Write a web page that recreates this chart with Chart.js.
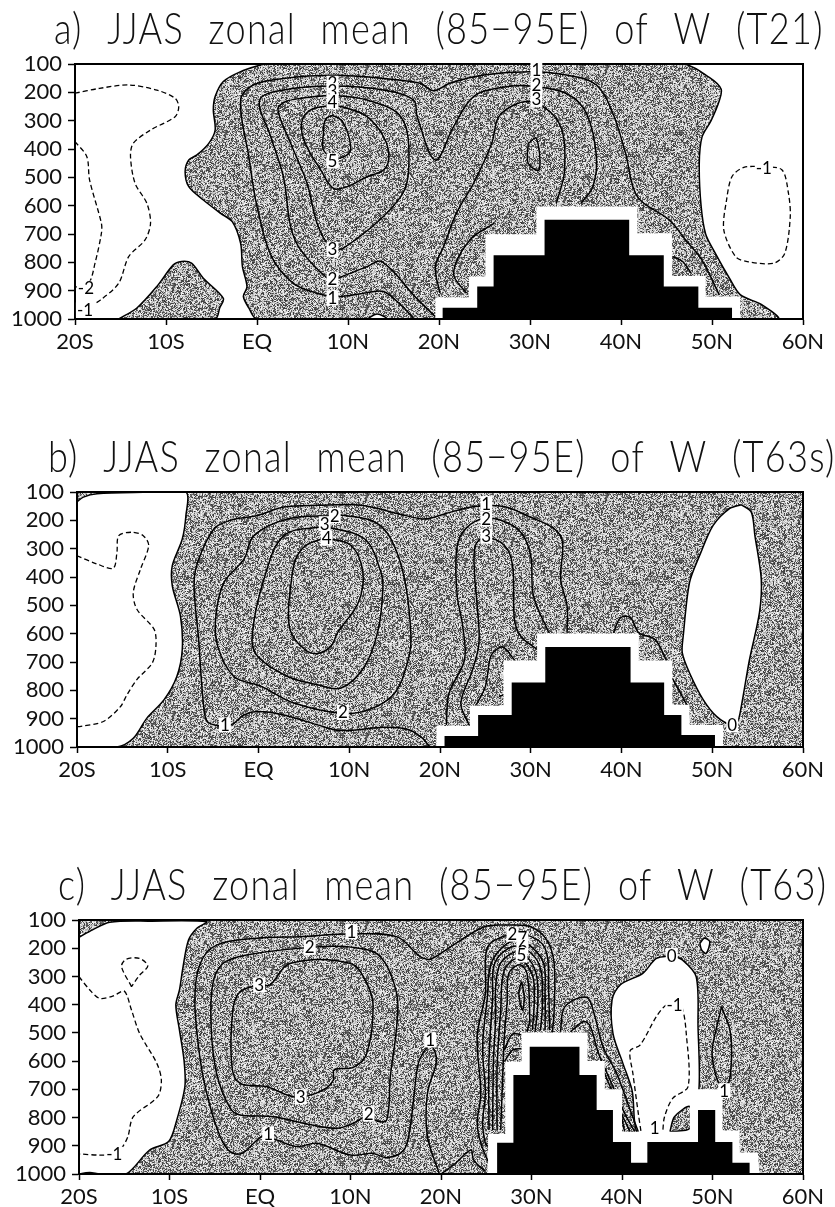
<!DOCTYPE html>
<html>
<head>
<meta charset="utf-8">
<style>
  body { margin: 0; background: #fff; }
  #wrap { position: relative; width: 835px; height: 1207px; overflow: hidden; }
  canvas { position: absolute; left: 0; }
</style>
<script src="https://cdn.jsdelivr.net/npm/chart.js@4/dist/chart.umd.min.js"></script>
</head>
<body>
<div id="wrap">
  <canvas id="chartA" width="835" height="355" style="top:4px"></canvas>
  <canvas id="chartB" width="835" height="355" style="top:432px"></canvas>
  <canvas id="chartC" width="835" height="354" style="top:860px"></canvas>
</div>
<script>
// 1. AXES
const xTicks = [-20, -10, 0, 10, 20, 30, 40, 50, 60];
const xTickLabels = ["20S", "10S", "EQ", "10N", "20N", "30N", "40N", "50N", "60N"];
const yTicks = [100, 200, 300, 400, 500, 600, 700, 800, 900, 1000];
const yTickLabels = ["100", "200", "300", "400", "500", "600", "700", "800", "900", "1000"];

// 2. PANEL A (T21), every pair is [latitude, pressure]
const titleA = "a) JJAS zonal mean (85\u221295E) of W (T21)";
const shadeA = [[0.7,100],[-1.8,127],[-3.7,162],[-4.6,215],[-4.8,262],[-4.6,333],[-5.3,380],[-6.6,421],[-7.5,439],[-7.9,480],[-7.5,533],[-5.9,580],[-4,627],[-2.7,657],[-1.8,733],[-1.6,815],[-1.1,886],[-1.5,920],[-0.9,961],[0,1000],[57.2,1000],[55.5,950],[53.1,914],[51.9,855],[50.4,770],[49.3,700],[48.8,600],[48.6,453],[48.9,358],[49.9,300],[50.8,230],[51,188],[49.7,147],[46.8,100],[0.7,100]];
const islandA = [[-15.2,1000],[-13.2,961],[-11,885],[-9.2,809],[-8.3,797],[-7.2,803],[-5.9,856],[-3.7,927],[-4.1,961],[-4.6,1000],[-15.2,1000]];
const holeA = [[12.1,1000],[13.2,982],[14.3,1000],[12.1,1000]];
const solidA = [
  [[17.2,997],[15.8,950],[13.9,903],[12.1,907],[8.8,921],[6.6,909],[4,874],[1.6,780],[0,603],[-0.9,427],[-1.8,227],[-0.4,174],[2.9,151],[8.4,140],[13.9,151],[17.9,168],[19.4,194],[21.2,168],[24.9,139],[30,127],[34,139],[37.3,174],[39.1,274],[40.5,415],[41.8,568],[45.3,650],[47.1,721],[48.9,792],[50.8,915]],
  [[19.6,992],[17.6,929],[13.7,797],[12.1,815],[8.8,856],[7.9,860],[4.8,756],[3.7,674],[2.9,498],[1.5,356],[0.3,227],[2.9,192],[8.3,178],[13.9,192],[17.2,227],[17.6,286],[19.6,439],[21.6,321],[23.8,215],[27,182],[30,178],[34,204],[36.2,274],[37.3,427],[36.9,533],[35.6,592]],
  [[8.3,209],[4.8,221],[3,235],[2.3,262],[3.7,380],[5.5,521],[6.6,662],[7.9,739],[9.5,750],[15.8,568],[16.7,427],[15.8,286],[12.1,227],[8.3,209]],
  [[20.1,909],[19.6,815],[20.5,745],[21.9,627],[23.8,521],[25.8,380],[26.7,280],[30,233],[33.2,309],[33.8,474],[32.9,592]],
  [[29.8,380],[30.7,362],[31,474],[29.8,450],[29.8,380]],
  [[26.1,662],[23.4,721],[21.6,839],[23,909]],
  [[45.7,780],[46.8,798],[47.7,839]],
  [[8.3,245],[5.9,262],[4.9,309],[5.3,380],[7,474],[8.4,539],[9.9,533],[12.1,498],[13.9,474],[14.5,427],[13.9,356],[12.1,286],[9.9,256],[8.3,245]],
  [[8.4,439],[7.3,403],[7.3,345],[7.5,298],[8.3,283],[9.5,309],[10.3,392],[9.9,421],[8.4,439]]
];
const dashedA = [
  [[-20,203],[-17.3,186],[-14.1,174],[-11,192],[-9,221],[-8.6,250],[-9,286],[-11.7,333],[-13.6,380],[-13.9,427],[-13.4,521],[-12.1,592],[-11.7,662],[-12.3,721],[-14.1,780],[-15.2,874],[-17.2,933],[-18.4,954],[-20,968]],
  [[-20,374],[-18.7,427],[-18.4,509],[-17.1,662],[-17.1,698],[-17.8,803],[-18.5,874],[-20,888]],
  [[55.7,462],[57.7,474],[58.4,556],[58.6,639],[58,768],[56.8,803],[54,798],[52.6,780],[51.3,686],[51.6,580],[52.2,497],[53.5,465],[55.7,462]]
];
const haloA = [[19.6,1000],[19.6,924],[23.3,924],[23.3,850],[25.1,850],[25.1,701],[30.7,701],[30.7,603],[41.8,603],[41.8,697],[45.6,697],[45.6,848],[49.3,848],[49.3,921],[53.1,921],[53.1,1000],[19.6,1000]];
const terrainA = [[20.4,1000],[20.4,960],[24.2,960],[24.2,885],[26,885],[26,775],[31.6,775],[31.6,650],[40.9,650],[40.9,775],[44.7,775],[44.7,885],[48.5,885],[48.5,960],[52.2,960],[52.2,1000],[20.4,1000]];
const labelsA = [[8.3,168,"2"],[8.3,194,"3"],[8.3,233,"4"],[8.3,442,"5"],[8.3,754,"3"],[8.3,860,"2"],[8.3,925,"1"],[-18.8,891,"-2"],[-18.9,968,"-1"],[30.7,122,"1"],[30.7,174,"2"],[30.7,225,"3"],[55.7,466,"-1"]];

// 3. PANEL B (T63s)
const titleB = "b) JJAS zonal mean (85\u221295E) of W (T63s)";
const shadeB = [[-20,100],[60,100],[60,1000],[-20,1000],[-20,100]];
const whiteLeftB = [[-20,135],[-19.3,118],[-17.8,106],[-12.7,101],[-8,100],[-8,183],[-8.4,266],[-9.5,360],[-9.5,431],[-8.6,538],[-8.4,656],[-9,751],[-10.4,833],[-12.3,898],[-13.8,969],[-15.6,1000],[-20,1000],[-20,135]];
const whiteRightB = [[53.2,145],[54.3,171],[54.7,254],[55.4,408],[55.2,526],[54.1,692],[53.2,857],[52.8,910],[52.1,922],[50.5,893],[49,833],[47.5,739],[46.7,668],[46.8,609],[47.5,419],[48.6,325],[50.1,218],[51.9,159],[53.2,145]];
const solidB = [
  [[18.8,997],[18,967],[16.5,938],[13.9,930],[9.1,942],[6.5,922],[2.8,887],[-0.1,875],[-1.6,887],[-3.1,922],[-5.5,914],[-6,869],[-6.6,620],[-7.1,431],[-6.7,348],[-4.9,230],[-3.1,200],[-0.1,183],[2.8,153],[6.5,147],[11.3,147],[15.8,180],[18,195],[19,192],[21.2,171],[23.8,151],[27,151],[30,189],[32.6,230],[33.5,277],[33.3,408],[34,502],[34,597]],
  [[8.4,183],[3.2,195],[-0.5,254],[-1.6,337],[-3.8,419],[-4.7,538],[-4.5,644],[-2.7,751],[0.3,786],[3.9,845],[9.1,881],[12.1,869],[15,810],[16.5,691],[16.8,609],[16.1,408],[14.6,266],[12.8,206],[9.5,183],[8.4,183]],
  [[7.3,221],[11.7,266],[13.5,384],[13.7,443],[13.2,585],[11.7,715],[9.1,792],[6.5,780],[3.2,751],[-0.1,680],[-0.7,609],[0.6,408],[2.8,254],[7.3,221]],
  [[7.3,262],[10.2,289],[11.5,384],[11,490],[8.7,597],[8,644],[6.5,670],[5.1,656],[3.6,597],[3.3,526],[3.6,419],[4.1,337],[5.2,289],[7.3,262]],
  [[20.7,922],[21,810],[22.7,692],[22.5,573],[21.9,467],[21.8,313],[22.5,242],[24.5,195],[26.7,200],[28.9,242],[30,325],[30.3,467],[32,597]],
  [[23.2,922],[22.3,845],[23.6,727],[24.3,632],[24.1,502],[23.8,384],[23.9,289],[25,260],[27.1,289],[28,360],[28.2,550],[28.9,609],[30.7,656]],
  [[24,851],[25,786],[25.6,680],[26.5,650],[27.1,650],[28.3,697]],
  [[39.1,597],[39.9,544],[41,544],[41.9,597],[43.7,621],[45,697]],
  [[45.6,757],[47.2,851]],
  [[26.5,822],[27,816]]
];
const dashedB = [
  [[-20,325],[-17.8,354],[-16,369],[-15.6,313],[-15.4,254],[-13.9,242],[-12.7,254],[-12.1,289],[-13,372],[-13.8,455],[-13.4,514],[-11.5,585],[-11.3,644],[-11.7,703],[-13.4,762],[-14.5,816],[-15.2,857],[-17.1,910],[-19.7,928],[-20,928]]
];
const haloB = [[19.6,1000],[19.6,926],[23.3,926],[23.3,854],[27,854],[27,695],[30.7,695],[30.7,599],[41.9,599],[41.9,695],[45.6,695],[45.6,851],[47.5,851],[47.5,922],[51.2,922],[51.2,1000],[19.6,1000]];
const terrainB = [[20.5,1000],[20.5,961],[24.2,961],[24.2,887],[27.9,887],[27.9,772],[31.6,772],[31.6,647],[41,647],[41,772],[44.7,772],[44.7,887],[46.6,887],[46.6,958],[50.3,958],[50.3,1000],[20.5,1000]];
const labelsB = [[8.4,183,"2"],[7.3,212,"3"],[7.5,263,"4"],[9.3,878,"2"],[-3.7,922,"1"],[25.1,141,"1"],[25.1,195,"2"],[25.1,256,"3"],[52.2,922,"0"]];

// 4. PANEL C (T63)
const titleC = "c) JJAS zonal mean (85\u221295E) of W (T63)";
const shadeC = [[-20,100],[60,100],[60,1000],[-20,1000],[-20,100]];
const whiteLeftC = [[-20,161],[-18.5,135],[-16.6,108],[-12.2,104],[-5.9,106],[-7,130],[-7.9,171],[-8.5,265],[-8.9,348],[-9.3,401],[-8.9,490],[-8.4,596],[-8.3,690],[-9.2,809],[-10.1,885],[-12.2,915],[-14.8,1000],[-17.7,1000],[-18.8,995],[-20,1000],[-20,161]];
const whiteHoleC = [[45.5,226],[43.8,236],[42.3,289],[39.8,330],[38.9,383],[39,502],[40.1,608],[41.1,702],[42,868],[47.5,868],[48.5,702],[48.4,478],[48.2,301],[46.7,242],[45.5,226]];
const whiteBlobC = [[48.6,183],[49.1,165],[49.7,177],[49.3,218],[48.8,206],[48.6,183]];
const whiteBumpC = [[6.1,1000],[6.5,985],[6.8,1000],[6.1,1000]];
const patchC = [[45.3,850],[45.8,797],[47.5,761],[47.5,838],[45.3,850]];
const solidC = [
  [[19.8,997],[18.5,867],[18.5,714],[19.5,596],[18.8,543],[17.8,584],[17.4,620],[16.6,832],[15.9,915],[14,942],[12.5,927],[10,933],[6.3,891],[4.1,903],[1.8,879],[0.4,865],[-0.7,891],[-2,927],[-3.3,921],[-4.4,868],[-5.7,738],[-6.6,596],[-7.2,383],[-6.6,254],[-4.8,189],[-0.4,165],[4.4,159],[10,150],[15.1,159],[17.7,230],[18.9,238],[21.1,194],[24.8,124],[27.3,118],[29.9,124],[31.7,171],[32.5,254],[32.5,419],[32.3,502]],
  [[12,787],[10.3,820],[8.5,838],[4.8,820],[1.5,797],[-2.2,791],[-3.3,767],[-4.8,643],[-5.4,478],[-5.2,324],[-4.1,254],[-1.5,224],[5.5,197],[10.3,197],[13.3,230],[15.1,360],[15.1,478],[14.4,655],[14,809],[12.9,812],[12,787]],
  [[-0.1,330],[-2.2,354],[-3,419],[-3.1,620],[-2.2,679],[0.7,690],[3,720],[4.5,728],[7,702],[8.1,667],[8.2,631],[10.3,622],[11.8,572],[12.5,407],[11.8,324],[10,254],[3.3,254],[1.1,330],[-0.1,330]],
  [[25.2,956],[24.4,891],[24,820],[24.4,714],[24,513],[24.9,360],[25.1,200],[27,157],[29.2,150],[31.5,200],[31.9,360],[32,490]],
  [[25.2,903],[24.9,891],[24.6,820],[24.9,714],[24.6,549],[25.1,383],[25.7,242],[28.4,171],[31.2,242],[31.5,360],[31.5,490]],
  [[25.3,844],[25.3,596],[25.7,383],[26,248],[28.4,192],[30.8,254],[31.2,395],[31,490]],
  [[25.7,844],[25.8,596],[26,478],[26.4,265],[28.6,212],[30.4,277],[30.7,395],[30.4,496]],
  [[26.2,844],[26.2,620],[26.6,419],[27,277],[28.6,236],[30.1,295],[30.3,395],[30.1,490]],
  [[26.6,844],[27,513],[27.3,395],[27.5,289],[28.7,259],[29.5,289],[29.8,454],[29.5,496]],
  [[28.9,318],[28.6,360],[29,419],[29.2,371],[28.9,318]],
  [[27,602],[27.9,561],[28.9,555]],
  [[27,561],[27.9,504],[28.9,507]],
  [[33.2,496],[33.7,407],[36.1,374],[37,442],[37.9,549],[39.4,643],[40.9,773],[41.8,850]],
  [[34.3,496],[35.8,460],[36.5,478],[37.4,572],[39,690],[40.3,785],[41.4,850]],
  [[37.6,608],[39,714],[40.1,797],[40.9,850]],
  [[38.3,702],[39.6,761],[40.3,850]],
  [[51,407],[50,549],[50,596],[50.7,679],[51.5,690],[52,643],[52,502],[51,407]],
  [[20,1000],[21.6,962],[23.3,915],[23.6,950],[24.9,991]]
];
const dashedC = [
  [[-20,301],[-18.8,348],[-17.7,378],[-16.2,369],[-15,352],[-14.2,419],[-13.3,502],[-11.4,608],[-10.9,667],[-11.3,726],[-14,797],[-14.6,868],[-15.3,909],[-16.1,930],[-17.7,933],[-20,929]],
  [[-14.2,336],[-15.3,265],[-14.8,239],[-13.3,236],[-12.4,263],[-13.3,295],[-14.2,336]],
  [[45.8,401],[44.9,401],[43.8,442],[42,543],[40.9,563],[41.2,643],[41.8,785],[42.1,850]],
  [[45.8,401],[46.6,407],[47.1,502],[47.3,690],[45.6,732],[44.7,797],[44.5,850]]
];
const haloC = [[25.2,1000],[25.2,858],[27.1,858],[27.1,602],[28.9,602],[28.9,499],[36.2,499],[36.2,600],[38.1,600],[38.1,700],[40,700],[40,850],[47.5,850],[47.5,700],[51.1,700],[51.1,846],[53,846],[53,924],[55,924],[55.2,1000],[25.2,1000]];
const terrainC = [[26.2,1000],[26.2,889],[28,889],[28,649],[29.8,649],[29.8,549],[35.3,549],[35.3,649],[37.2,649],[37.2,773],[39,773],[39,887],[41,887],[41,960],[42.8,960],[42.8,887],[48.4,887],[48.4,773],[50.3,773],[50.3,887],[52.2,887],[52.2,960],[54.1,960],[54.1,1000],[26.2,1000]];
const labelsC = [[10.1,141,"1"],[5.5,197,"2"],[-0.1,330,"3"],[4.5,726,"3"],[12,787,"2"],[0.9,858,"1"],[-16.1,930,"-1"],[18.8,525,"1"],[27.9,150,"2"],[29,165,"7"],[29,195,"6"],[28.9,224,"5"],[45.5,226,"0"],[45.8,401,"-1"],[51.3,705,"1"],[43.6,838,"1"]];

// 5. SPECKLE FILL, a scanned stipple kept as a repeating tile
function makeSpeckle() {
  const size = 240;
  const tile = document.createElement('canvas');
  tile.width = tile.height = size;
  const tctx = tile.getContext('2d');
  const img = tctx.createImageData(size, size);
  let seed = 12345;
  const next = () => { seed = (seed * 1103515245 + 12345) & 0x7fffffff; return (seed >> 8) / 0x7fffff; };
  const coarse = [];
  for (let i = 0; i < 81 * 81; i++) coarse.push(next());
  for (let y = 0; y < size; y++) {
    for (let x = 0; x < size; x++) {
      const c = coarse[Math.floor(y / 3) * 81 + Math.floor(x / 3)];
      const dark = next() * 0.7 + c * 0.3 < 0.44;
      const v = dark ? 50 + next() * 70 : 170 + next() * 80;
      const k = (y * size + x) * 4;
      img.data[k] = img.data[k + 1] = img.data[k + 2] = v;
      img.data[k + 3] = 255;
    }
  }
  tctx.putImageData(img, 0, 0);
  return tile;
}
const speckleTile = makeSpeckle();

// 6. DATASET HELPERS
const toPoints = list => list.map(([x, y]) => ({ x, y }));
const base = { pointRadius: 0, pointHoverRadius: 0, borderColor: '#000' };
const area = (list, fillStyle, border) => ({ ...base, data: toPoints(list), fill: 'shape', backgroundColor: fillStyle, borderWidth: border, tension: border ? 0.3 : 0 });
const block = (list, color) => ({ ...base, data: toPoints(list), fill: 'shape', backgroundColor: color, borderColor: color, borderWidth: 0, tension: 0 });
const solid = list => ({ ...base, data: toPoints(list), fill: false, borderWidth: 1.5, tension: 0.35 });
const dashed = list => ({ ...base, data: toPoints(list), fill: false, borderWidth: 1.3, borderDash: [5, 3], tension: 0.3 });

// 7. PLUGINS
const contourLabels = {
  id: 'contourLabels',
  afterDatasetsDraw(chart, args, opts) {
    const { ctx, scales } = chart;
    ctx.save();
    ctx.strokeStyle = '#000';
    ctx.lineWidth = 2;
    const a = chart.chartArea;
    ctx.strokeRect(a.left, a.top, a.right - a.left, a.bottom - a.top);
    ctx.font = '17px Lato';
    ctx.textAlign = 'center';
    ctx.textBaseline = 'middle';
    opts.items.forEach(([lon, p, text]) => {
      const x = scales.x.getPixelForValue(lon);
      const y = scales.y.getPixelForValue(p);
      const w = ctx.measureText(text).width + 2;
      ctx.fillStyle = '#fff';
      ctx.fillRect(x - w / 2, y - 7.5, w, 15);
      ctx.fillStyle = '#000';
      ctx.fillText(text, x, y + 0.5);
    });
    ctx.restore();
  }
};
// the scanned title is tall, narrow and set wide, so squeeze and space it round the title draw
const wideTitle = {
  id: 'wideTitle',
  beforeDraw(chart, args, opts) {
    const box = chart.titleBlock;
    if (box._wide) return;
    const draw = box.draw;
    box.draw = function () {
      const ctx = chart.ctx;
      ctx.save();
      ctx.letterSpacing = opts.letter + 'px';
      ctx.wordSpacing = opts.word + 'px';
      ctx.translate(opts.left, 0);
      ctx.scale(opts.squeeze, 1);
      box.right = box.left + 1200; // title passes this on as maxWidth
      draw.call(box);
      ctx.restore();
    };
    box._wide = true;
  }
};

// 8. CHART SETUP
function makePanel(id, title, left, titleLeft, layers, labels) {
  const ctx = document.getElementById(id).getContext('2d');
  const pattern = ctx.createPattern(speckleTile, 'repeat');
  return new Chart(ctx, {
    type: 'line',
    plugins: [contourLabels, wideTitle],
    data: { datasets: layers(pattern).reverse() },
    options: {
      responsive: false,
      animation: false,
      events: [],
      layout: { autoPadding: false, padding: { left: 0, right: 32, top: 0, bottom: 0 } },
      plugins: {
        legend: { display: false },
        tooltip: { enabled: false },
        title: {
          display: true, text: title, align: 'start', color: '#111',
          font: { family: 'Lato', size: 43, weight: 300, lineHeight: 1 },
          padding: { top: 5, bottom: 12 }
        },
        wideTitle: { left: titleLeft, letter: 1.5, word: 16, squeeze: 0.84 },
        contourLabels: { items: labels }
      },
      scales: {
        x: {
          type: 'linear', min: -20, max: 60,
          afterBuildTicks: s => { s.ticks = xTicks.map(value => ({ value })); },
          afterFit: s => { s.height = 40; },
          border: { color: '#000', width: 2 },
          grid: { drawOnChartArea: false, tickLength: 6, tickColor: '#000', tickWidth: 1.5 },
          ticks: { color: '#111', autoSkip: false, maxRotation: 0, padding: 4, font: { family: 'Lato', size: 22 }, callback: (v, i) => xTickLabels[i] }
        },
        y: {
          type: 'linear', min: 100, max: 1000, reverse: true,
          afterBuildTicks: s => { s.ticks = yTicks.map(value => ({ value })); },
          afterFit: s => { s.width = left; },
          border: { color: '#000', width: 2 },
          grid: { drawOnChartArea: false, tickLength: 7, tickColor: '#000', tickWidth: 1.5 },
          ticks: { color: '#111', autoSkip: false, padding: 6, font: { family: 'Lato', size: 22 }, callback: (v, i) => yTickLabels[i] }
        }
      }
    }
  });
}

makePanel('chartA', titleA, 75, 54, p => [
  area(shadeA, p, 1.5),
  area(islandA, p, 1.5),
  area(holeA, '#fff', 1.5),
  ...solidA.map(solid),
  ...dashedA.map(dashed),
  block(haloA, '#fff'),
  block(terrainA, '#000')
], labelsA);

makePanel('chartB', titleB, 77, 48, p => [
  block(shadeB, p),
  area(whiteLeftB, '#fff', 1.5),
  area(whiteRightB, '#fff', 1.5),
  ...solidB.map(solid),
  ...dashedB.map(dashed),
  block(haloB, '#fff'),
  block(terrainB, '#000')
], labelsB);

makePanel('chartC', titleC, 79, 58, p => [
  block(shadeC, p),
  area(whiteLeftC, '#fff', 1.5),
  area(whiteHoleC, '#fff', 1.5),
  area(whiteBlobC, '#fff', 1.5),
  area(whiteBumpC, '#fff', 1.5),
  area(patchC, p, 1.5),
  ...solidC.map(solid),
  ...dashedC.map(dashed),
  block(haloC, '#fff'),
  block(terrainC, '#000')
], labelsC);
</script>
</body>
</html>
